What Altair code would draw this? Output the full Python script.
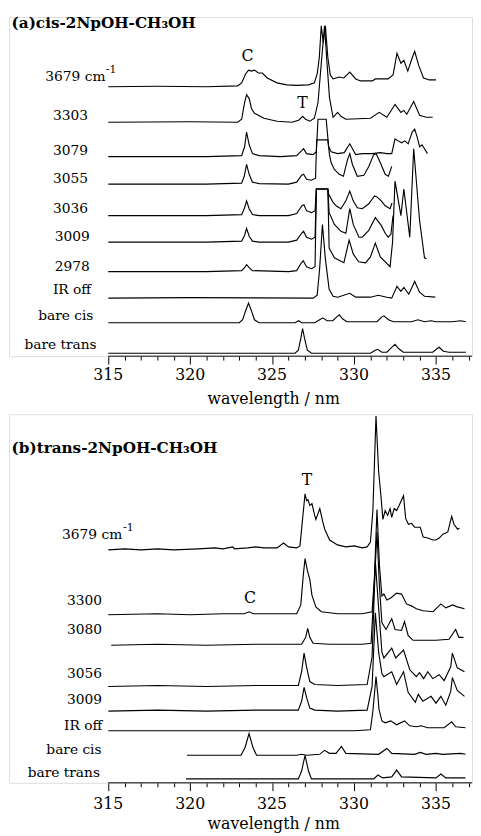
import altair as alt
import pandas as pd

# ---------------- x range (nm) ----------------
X0, X1 = 308.94, 337.2
W = 471

# ---------------- panel (a) cis-2NpOH-CH3OH ----------------
a_names = ["3679", "3303", "3079", "3055", "3036", "3009", "2978", "IR off", "bare cis", "bare trans"]
a_offsets = [274, 238, 203, 175, 143, 116, 86, 59, 34, 3]

a3679_nm = [315.0, 318.0, 321.0, 322.9, 323.14, 323.38, 323.56, 323.74, 323.92, 324.16, 324.4, 324.7, 325.3, 325.9, 326.5, 327.22, 327.58, 327.76, 327.88, 328.0, 328.12, 328.25, 328.4, 328.55, 328.72, 328.9, 329.08, 329.38, 329.74, 330.1, 330.4, 331.12, 331.3, 332.08, 332.38, 332.62, 332.86, 333.04, 333.28, 333.52, 333.7, 333.94, 334.24, 334.6, 335.0]
a3679_h = [0, 0.5, 0, 1, 4, 13, 17, 16, 17, 14, 14, 9, 4, 2, 1.5, 2, 4, 14, 30, 62, 45, 62, 30, 12, 8, 9, 10, 9, 15, 8, 6, 6, 8, 8, 12, 34, 24, 27, 16, 28, 36, 22, 9, 7, 7]

a3303_nm = [315.0, 320.0, 322.9, 323.14, 323.32, 323.44, 323.6, 323.74, 323.92, 324.16, 324.5, 325.3, 326.2, 326.62, 326.86, 327.04, 327.3, 327.58, 327.8, 328.0, 328.2, 328.35, 328.5, 328.72, 329.0, 329.2, 329.5, 331.0, 331.54, 332.0, 332.5, 332.86, 333.04, 333.22, 333.64, 334.0, 334.4, 334.8]
a3303_h = [0, 0.5, 0, 3, 20, 28, 24, 14, 9, 7, 4, 1, 0, 2, 6, 3, 1, 4, 20, 60, 98, 60, 25, 5, 10, 6, 3, 4, 10, 5, 18, 10, 12, 8, 21, 7, 5, 5]

a3079_nm = [315.0, 321.0, 323.14, 323.32, 323.44, 323.6, 323.8, 324.2, 325.5, 326.5, 326.8, 326.92, 327.1, 327.5, 327.7, 327.8, 328.3, 328.45, 328.6, 329.0, 329.4, 329.74, 330.1, 330.5, 331.1, 331.6, 332.0, 332.3, 332.5, 332.7, 332.9, 333.1, 333.3, 333.55, 333.7, 333.85, 334.0, 334.15, 334.48]
a3079_h = [0, 0, 1, 10, 25, 12, 3, 1, 0, 1, 6, 8, 3, 2, 5, 38, 38, 10, 5, 3, 4, 13, 2, 3, 3, 4, 3, 3, 18, 16, 14, 16, 13, 25, 28, 20, 10, 12, 3]

a3055_nm = [315.0, 321.0, 323.14, 323.3, 323.44, 323.6, 323.8, 324.2, 326.0, 326.5, 326.8, 326.92, 327.1, 327.4, 327.65, 327.72, 328.4, 328.5, 328.6, 328.8, 329.1, 329.35, 329.6, 329.74, 329.9, 330.2, 330.6, 330.9, 331.2, 331.35, 331.6, 331.9, 332.1, 332.3]
a3055_h = [0, 0, 1, 8, 20, 10, 2, 0.5, 0, 2, 9, 10, 5, 4, 6, 45, 45, 30, 22, 15, 10, 8, 25, 31, 20, 8, 9, 18, 30, 31, 22, 10, 8, 18]

a3036_nm = [315.0, 321.0, 323.14, 323.32, 323.44, 323.6, 323.8, 324.2, 326.0, 326.5, 326.82, 326.94, 327.1, 327.4, 327.62, 327.7, 328.4, 328.45, 328.7, 328.9, 329.2, 329.5, 329.74, 329.95, 330.2, 330.5, 330.9, 331.25, 331.4, 331.66, 331.9, 332.2, 332.32]
a3036_h = [0, 0, 1, 8, 15, 7, 1, 0, 0, 2, 10, 11, 5, 3, 5, 27, 27, 22, 14, 10, 7, 15, 25, 15, 8, 7, 12, 20, 19, 15, 10, 7, 13]

a3009_nm = [315.0, 321.0, 323.14, 323.32, 323.44, 323.6, 323.8, 324.2, 326.0, 326.5, 326.8, 326.92, 327.1, 327.4, 327.62, 327.7, 328.4, 328.48, 328.8, 329.2, 329.5, 329.74, 329.95, 330.3, 330.5, 330.9, 331.3, 331.66, 331.9, 332.08, 332.25, 332.38]
a3009_h = [0, 0, 1, 7, 14, 6, 1, 0, 0, 2, 9, 11, 5, 3, 5, 54, 54, 30, 18, 11, 9, 34, 18, 5, 5, 12, 25, 17, 9, 5, 8, 27]

a2978_nm = [315.0, 321.0, 323.14, 323.32, 323.44, 323.6, 323.8, 326.0, 326.5, 326.75, 326.9, 327.1, 327.4, 327.62, 327.7, 328.4, 328.48, 328.8, 329.38, 329.7, 329.95, 330.28, 330.7, 331.0, 331.3, 331.6, 332.2, 332.35, 332.5, 332.86, 333.04, 333.4, 333.64, 334.0, 334.3, 334.42]
a2978_h = [0, 0, 1, 4, 7, 4, 1, 0, 1, 8, 11, 5, 3, 5, 84, 84, 24, 14, 9, 32, 18, 10, 9, 15, 29, 15, 5, 30, 92, 57, 84, 35, 125, 52, 14, 13]

airoff_nm = [315.0, 320.0, 327.5, 327.75, 327.9, 328.07, 328.25, 328.48, 328.72, 329.0, 329.74, 330.1, 331.0, 331.48, 332.0, 332.3, 332.62, 332.86, 333.04, 333.34, 333.7, 334.0, 334.3, 334.96]
airoff_h = [0, 0.5, 0, 3, 30, 75, 40, 9, 2, 1, 5, 1, 1, 3, 1, 0, 12, 7, 11, 4, 17, 6, 2, 1]

acis_nm = [315.0, 323.0, 323.2, 323.38, 323.56, 323.74, 323.92, 324.2, 326.4, 326.62, 326.8, 327.6, 327.9, 328.1, 328.35, 328.7, 328.95, 329.1, 329.3, 329.55, 331.4, 331.7, 331.82, 332.1, 332.4, 333.5, 333.9, 334.3, 334.7, 335.0, 336.0, 336.5, 336.82]
acis_h = [0, 0, 3, 12, 20, 12, 3, 0, 0, 2, 0, 0, 3, 5, 2, 2, 6, 8, 4, 1, 1, 6, 7, 3, 1, 1, 3, 1, 2, 1, 1, 2, 1]

atrans_nm = [315.0, 326.4, 326.6, 326.75, 326.86, 326.98, 327.15, 327.4, 331.0, 331.3, 331.44, 331.7, 332.0, 332.3, 332.5, 332.7, 333.0, 334.8, 335.1, 335.2, 335.45, 335.8, 336.82]
atrans_h = [0, 0, 3, 15, 25, 15, 3, 0, 0, 3, 4, 1, 1, 6, 9, 5, 1, 1, 5, 6, 2, 1, 1]

a_nm = [a3679_nm, a3303_nm, a3079_nm, a3055_nm, a3036_nm, a3009_nm, a2978_nm, airoff_nm, acis_nm, atrans_nm]
a_h = [a3679_h, a3303_h, a3079_h, a3055_h, a3036_h, a3009_h, a2978_h, airoff_h, acis_h, atrans_h]

a_label_text = ["3679 cm", "3303", "3079", "3055", "3036", "3009", "2978", "IR off", "bare cis", "bare trans"]
a_label_nm = [311.16, 311.62, 311.62, 311.62, 311.62, 311.74, 311.74, 311.62, 310.72, 309.88]
a_label_val = [284, 244, 209, 180, 150, 121, 91, 67, 41, 11]
a_sup_text = ["-1"]
a_sup_nm = [314.85]
a_sup_val = [291]
a_mark_text = ["C", "T"]
a_mark_nm = [323.5, 326.86]
a_mark_val = [305, 257]
a_title = "(a)cis-2NpOH-CH\u2083OH"
a_title_val = 339
a_ticklabel_val = -19.5
a_axistitle_val = -44

# ---------------- panel (b) trans-2NpOH-CH3OH ----------------
b_names = ["3679", "3300", "3080", "3056", "3009", "IR off", "bare cis", "bare trans"]
b_offsets = [237, 171, 140, 98, 73, 53, 28, 4]

b3679_nm = [315.0, 316.0, 317.0, 318.0, 319.0, 320.5, 321.5, 322.0, 322.6, 322.7, 323.5, 324.0, 324.5, 325.3, 325.7, 326.0, 326.5, 326.7, 326.85, 327.01, 327.1, 327.19, 327.3, 327.43, 327.6, 327.67, 327.91, 328.1, 328.21, 328.51, 328.99, 329.5, 330.0, 330.5, 330.8, 331.0, 331.15, 331.34, 331.5, 331.64, 331.76, 331.9, 332.05, 332.2, 332.3, 332.45, 332.6, 332.75, 333.02, 333.15, 333.32, 333.5, 333.7, 334.04, 334.22, 334.5, 334.82, 335.0, 335.2, 335.42, 335.72, 335.96, 336.1, 336.32, 336.44]
b3679_h = [0, 1, 0, 1, 0, 1, 2, 1, 3, 1, 2, 3, 2, 2, 7, 3, 2, 4, 30, 57, 50, 51, 45, 47, 35, 31, 42, 28, 21, 10, 5, 3, 4, 2, 3, 8, 40, 136, 80, 55, 31, 40, 35, 42, 33, 42, 40, 45, 55, 32, 26, 27, 23, 23, 13, 12, 10, 10, 12, 16, 18, 34, 26, 21, 22]

b3300_nm = [315.0, 318.0, 320.0, 322.0, 323.3, 323.59, 323.85, 325.0, 326.5, 326.75, 326.9, 327.01, 327.15, 327.3, 327.43, 327.67, 328.0, 329.0, 330.5, 331.1, 331.25, 331.4, 331.55, 331.7, 331.82, 332.0, 332.24, 332.6, 332.9, 333.2, 333.5, 333.8, 334.22, 334.82, 335.3, 335.6, 336.02, 336.3, 336.74]
b3300_h = [0, 1, 0, 1, 1, 3, 1, 1, 1, 10, 40, 57, 45, 36, 20, 8, 3, 1, 1, 3, 40, 107, 50, 19, 21, 15, 17, 22, 21, 11, 9, 6, 4, 3, 11, 7, 10, 8, 6]

b3080_nm = [315.18, 318.0, 321.0, 324.0, 326.8, 327.05, 327.17, 327.3, 327.5, 328.5, 330.5, 331.04, 331.2, 331.4, 331.55, 331.7, 331.95, 332.3, 332.5, 332.9, 333.08, 333.3, 333.6, 334.0, 335.0, 335.8, 336.2, 336.4, 336.68]
b3080_h = [0, 1, 0, 1, 1, 8, 17, 8, 2, 1, 1, 2, 50, 115, 60, 23, 16, 27, 16, 15, 24, 10, 5, 5, 5, 6, 16, 8, 8]

b3056_nm = [315.0, 318.0, 321.0, 324.0, 326.6, 326.8, 326.95, 327.1, 327.3, 327.6, 329.0, 330.8, 331.1, 331.3, 331.5, 331.7, 331.82, 332.3, 332.54, 333.02, 333.4, 333.8, 334.0, 334.25, 334.5, 334.8, 335.2, 335.5, 335.9, 336.0, 336.3, 336.74]
b3056_h = [0, 1, 0, 1, 1, 15, 34, 20, 5, 2, 1, 2, 30, 127, 80, 35, 29, 39, 29, 37, 17, 10, 14, 8, 15, 8, 12, 6, 20, 34, 19, 15]

b3009_nm = [315.0, 318.0, 321.0, 324.0, 326.6, 326.8, 326.95, 327.1, 327.3, 327.6, 329.0, 330.8, 331.1, 331.3, 331.5, 331.7, 331.82, 332.3, 332.6, 333.02, 333.3, 333.74, 333.92, 334.2, 334.7, 335.0, 335.3, 335.6, 335.9, 336.0, 336.3, 336.74]
b3009_h = [0, 1, 0, 1, 1, 10, 24, 14, 3, 1, 0, 1, 25, 100, 60, 38, 35, 40, 27, 40, 19, 9, 17, 10, 15, 8, 15, 6, 20, 34, 21, 15]

biroff_nm = [315.0, 320.0, 325.0, 330.0, 331.0, 331.15, 331.34, 331.46, 331.52, 331.7, 331.9, 332.24, 332.6, 333.08, 333.4, 333.8, 334.1, 334.5, 335.5, 335.96, 336.2, 336.8]
biroff_h = [0, 0, 0, 0, 1, 20, 55, 35, 22, 10, 8, 10, 6, 10, 5, 4, 5, 3, 3, 9, 4, 3]

bcis_nm = [319.8, 323.1, 323.35, 323.59, 323.83, 324.05, 326.5, 326.8, 327.1, 327.9, 328.2, 328.5, 328.9, 329.23, 329.5, 331.5, 332.0, 332.3, 333.7, 334.04, 334.4, 335.0, 335.4, 336.5, 336.8]
bcis_h = [0, 0, 8, 22, 8, 0, 0, 1, 0, 1, 5, 2, 2, 9, 2, 1, 7, 2, 1, 3, 1, 2, 1, 2, 1]

btrans_nm = [319.74, 326.6, 326.8, 327.01, 327.22, 327.4, 331.2, 331.46, 331.75, 332.3, 332.6, 332.9, 335.0, 335.3, 335.6, 336.8]
btrans_h = [0, 0, 8, 24, 8, 0, 0, 4, 1, 2, 9, 2, 1, 5, 1, 1]

b_nm = [b3679_nm, b3300_nm, b3080_nm, b3056_nm, b3009_nm, biroff_nm, bcis_nm, btrans_nm]
b_h = [b3679_h, b3300_h, b3080_h, b3056_h, b3009_h, biroff_h, bcis_h, btrans_h]

b_label_text = ["3679 cm", "3300", "3080", "3056", "3009", "IR off", "bare cis", "bare trans"]
b_label_nm = [312.18, 312.48, 312.48, 312.48, 312.48, 312.30, 311.22, 310.08]
b_label_val = [252, 185, 155, 111, 84, 58, 33, 10]
b_sup_text = ["-1"]
b_sup_nm = [315.9]
b_sup_val = [259]
b_mark_text = ["T", "C"]
b_mark_nm = [327.13, 323.65]
b_mark_val = [308, 188]
b_title = "(b)trans-2NpOH-CH\u2083OH"
b_title_val = 340
b_ticklabel_val = -22
b_axistitle_val = -42

# ---------------- axis ----------------
tick_values = list(range(315, 338))
tick_label_values = [315, 320, 325, 330, 335]
axis_title = "wavelength / nm"
axis_title_nm = 325.1
FONT = "DejaVu Serif"


def traces_df(names, offsets, nms, hs):
    rows = []
    for n, off, xl, hl in zip(names, offsets, nms, hs):
        for i, (x, h) in enumerate(zip(xl, hl)):
            rows.append({"trace": n, "nm": x, "val": off + h, "i": i})
    return pd.DataFrame(rows)


def text_layer(t, xs, ys, xe, ye, **kw):
    d = pd.DataFrame({"t": t, "nm": xs, "val": ys})
    style = dict(baseline="middle", font=FONT, color="black")
    style.update(kw)
    return alt.Chart(d).mark_text(**style).encode(x=xe("nm"), y=ye("val"), text="t:N")


def panel(names, offsets, nms, hs, lab_t, lab_x, lab_y, sup_t, sup_x, sup_y,
          mk_t, mk_x, mk_y, title, title_val, tl_val, at_val, ymax):
    xscale = alt.Scale(domain=[X0, X1], nice=False, zero=False)
    yscale = alt.Scale(domain=[0, ymax], nice=False, zero=False)
    xaxis = alt.Axis(
        values=tick_values, labels=False, title=None,
        tickSize={"condition": {"test": "datum.value % 5 === 0", "value": 8}, "value": 4},
        domain=False, grid=False, tickColor="black", tickWidth=1,
    )

    def xe(field):
        return alt.X(field, type="quantitative", scale=xscale, axis=xaxis)

    def ye(field):
        return alt.Y(field, type="quantitative", scale=yscale, axis=None)

    df = traces_df(names, offsets, nms, hs)
    lines = alt.Chart(df).mark_line(color="black", strokeWidth=1.15).encode(
        x=xe("nm"), y=ye("val"), detail="trace:N", order="i:Q")

    ax_df = pd.DataFrame({"x1": [315.0], "x2": [X1], "y": [0]})
    axline = alt.Chart(ax_df).mark_rule(color="black", strokeWidth=1).encode(
        x=xe("x1"), x2="x2:Q", y=ye("y"))

    labels = text_layer(lab_t, lab_x, lab_y, xe, ye, align="left", fontSize=14)
    sups = text_layer(sup_t, sup_x, sup_y, xe, ye, align="left", fontSize=11)
    marks = text_layer(mk_t, mk_x, mk_y, xe, ye, align="center", fontSize=16)
    ttl = text_layer([title], [309.1], [title_val], xe, ye, align="left",
                     fontSize=15.5, fontWeight="bold")
    tls = text_layer([str(v) for v in tick_label_values], tick_label_values,
                     [tl_val] * len(tick_label_values), xe, ye, align="center", fontSize=16)
    atl = text_layer([axis_title], [axis_title_nm], [at_val], xe, ye, align="center", fontSize=16)

    return alt.layer(lines, axline, labels, sups, marks, ttl, tls, atl).properties(width=W, height=ymax)


pa = panel(a_names, a_offsets, a_nm, a_h, a_label_text, a_label_nm, a_label_val,
           a_sup_text, a_sup_nm, a_sup_val,
           a_mark_text, a_mark_nm, a_mark_val, a_title, a_title_val,
           a_ticklabel_val, a_axistitle_val, 345)
pb = panel(b_names, b_offsets, b_nm, b_h, b_label_text, b_label_nm, b_label_val,
           b_sup_text, b_sup_nm, b_sup_val,
           b_mark_text, b_mark_nm, b_mark_val, b_title, b_title_val,
           b_ticklabel_val, b_axistitle_val, 375)

chart = alt.vconcat(pa, pb, spacing=5).properties(
    padding={"left": 0, "top": 0, "right": 0, "bottom": 0}
).configure_view(stroke=None).configure(background="white", font=FONT)

chart.save("out.html", embed_options={"renderer": "svg", "actions": False})
